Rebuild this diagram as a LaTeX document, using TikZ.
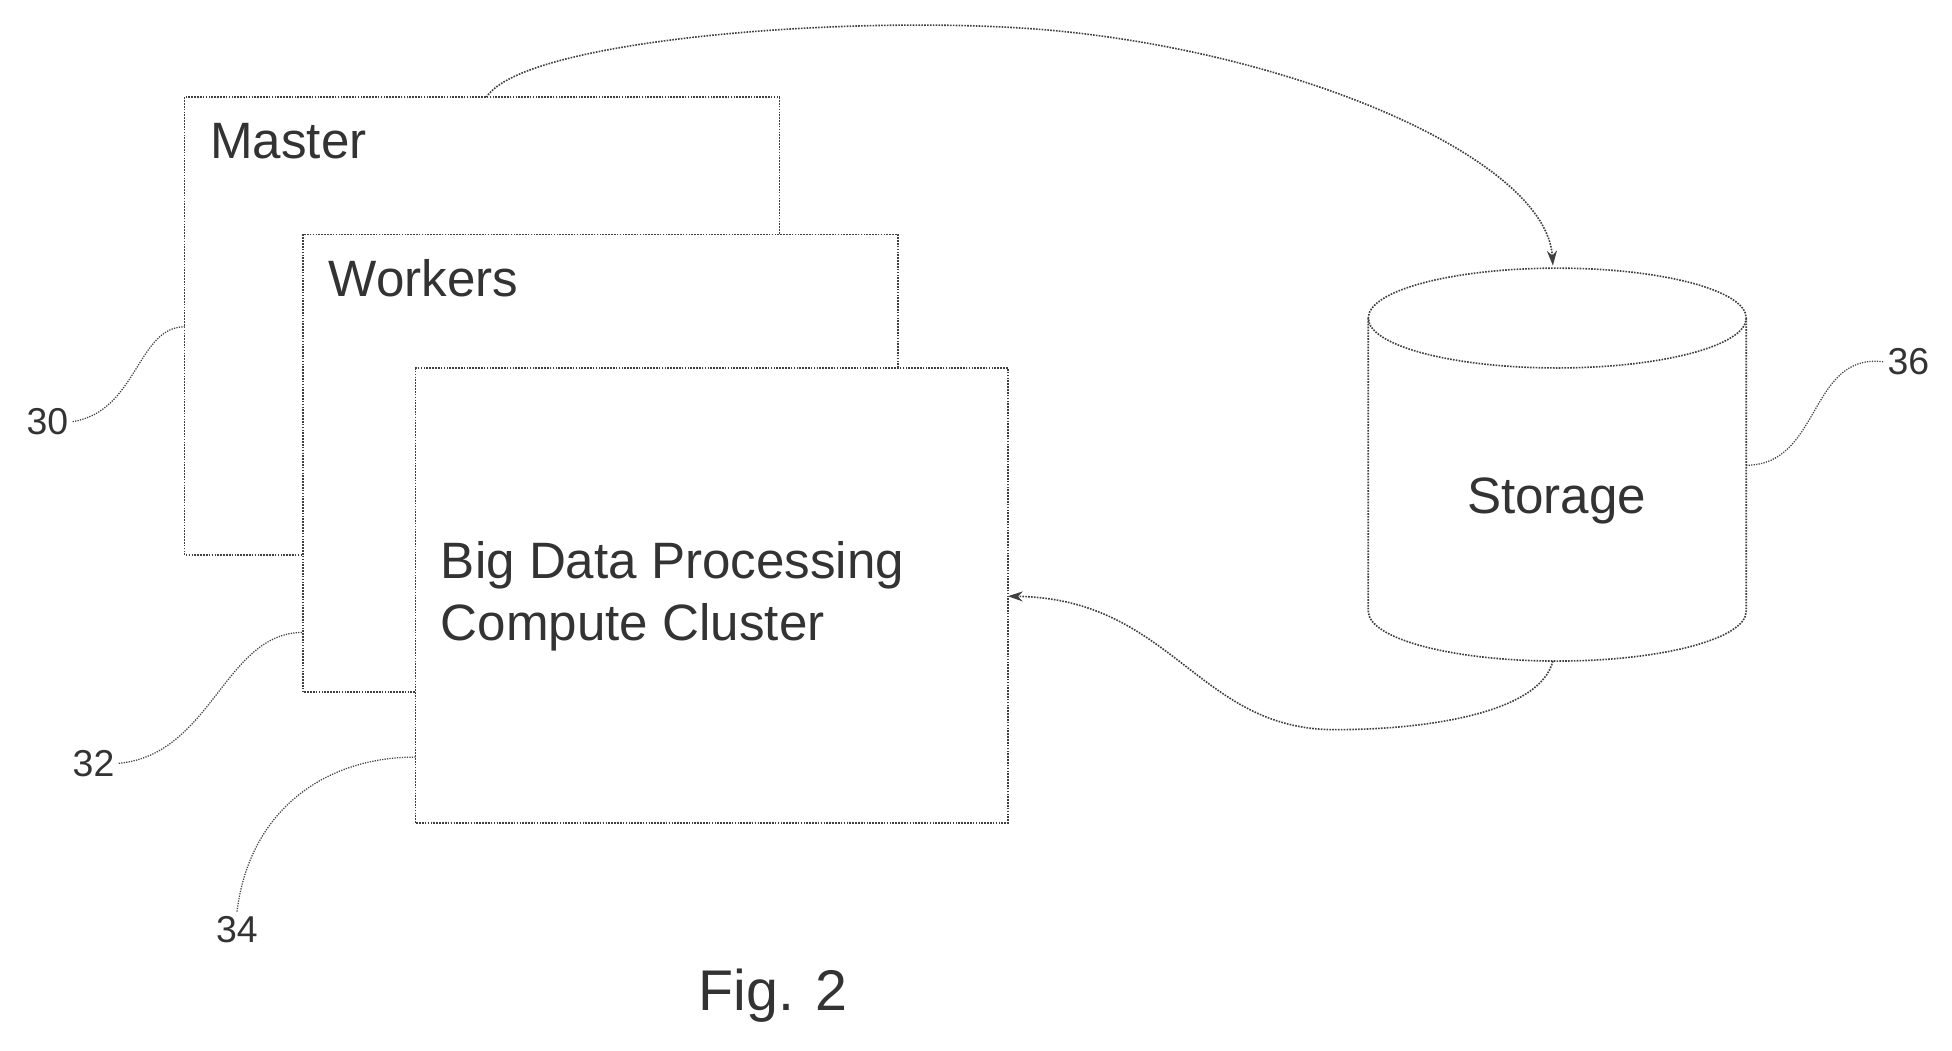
\documentclass[tikz,border=0pt]{standalone}
\usepackage{fontspec}
\setmainfont{Liberation Sans}
\usetikzlibrary{arrows.meta}
\begin{document}
\begin{tikzpicture}[x=1pt,y=-1pt,
  ln/.style={draw=black!75,densely dotted,line width=1.3pt},
  box/.style={ln,fill=white},
  lbl/.style={font=\fontsize{30}{34}\selectfont,text=black!80},
  txt/.style={font=\fontsize{41}{50}\selectfont,text=black!80,anchor=west}]
\useasboundingbox (0,0) rectangle (1565,842);
\draw[box] (148,78) rectangle (625,445);
\draw[box] (243,188) rectangle (720,555);
\draw[box] (333,295) rectangle (808,660);
\node[txt] (m) at (165,113) {Master};
\node[txt] (w) at (260,223) {Workers};
\node[txt,align=left] (b) at (350,478) {Big Data Processing\\Compute Cluster};
\coordinate (mt) at (390,78);
\coordinate (bc) at (808,478);
% storage
\path[fill=white] (1097,255) -- (1097,490) arc[start angle=180,end angle=0,x radius=151.5,y radius=40] -- (1400,255) -- cycle;
\draw[ln] (1097,255) -- (1097,490) arc[start angle=180,end angle=0,x radius=151.5,y radius=40] -- (1400,255);
\draw[ln] (1248.5,255) ellipse[x radius=151.5,y radius=40];
\node[txt,anchor=center] (s) at (1248,402) {Storage};
\coordinate (st) at (1245,213);
\coordinate (sb) at (1245,530);
\draw[ln,-{Stealth[length=12pt,width=8pt]}] (mt) .. controls (420,30) and (700,10) .. (850,25) .. controls (1050,45) and (1240,130) .. (st);
\draw[ln,-{Stealth[length=12pt,width=8pt]}] (sb) .. controls (1235,570) and (1150,585) .. (1070,585) .. controls (960,585) and (940,480) .. (bc);
% labels
\node[lbl] (l30) at (38,338) {30};
\node[lbl] (l32) at (75,612) {32};
\node[lbl] (l34) at (190,745) {34};
\node[lbl] (l36) at (1530,290) {36};
\draw[ln,line width=1pt] (l30.east) .. controls (110,330) and (110,262) .. (148,262);
\draw[ln,line width=1pt] (l32.east) .. controls (170,605) and (180,507) .. (243,507);
\draw[ln,line width=1pt] (l34.north) .. controls (200,650) and (260,607) .. (333,607);
\draw[ln,line width=1pt] (l36.west) .. controls (1450,283) and (1460,373) .. (1400,373);
\node[font=\fontsize{46}{50}\selectfont,text=black!80] (fig) at (620,798) {Fig. 2};
\end{tikzpicture}
\end{document}
